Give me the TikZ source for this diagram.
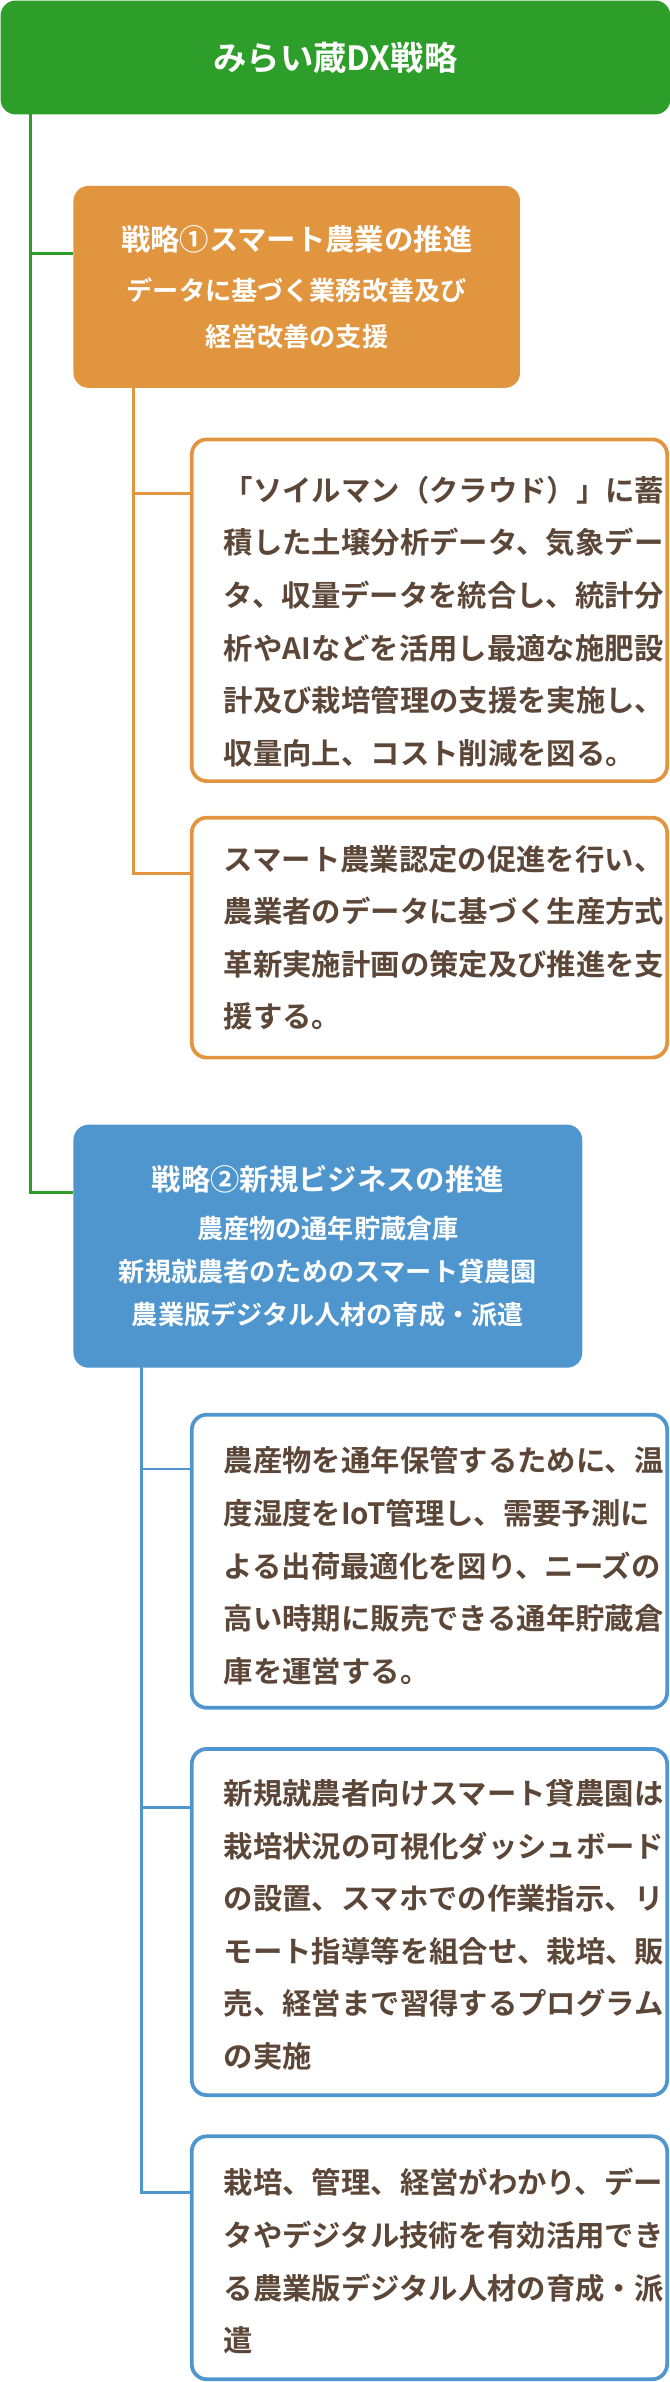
\documentclass[tikz,border=0pt]{standalone}
\usepackage{fontspec}
\setmainfont{Noto Sans CJK JP}[BoldFont={Noto Sans CJK JP Bold}]
\usetikzlibrary{positioning}
\definecolor{dxgreen}{HTML}{2E9E2A}
\definecolor{dxorange}{HTML}{E1953E}
\definecolor{dxblue}{HTML}{4F96CE}
\definecolor{dxbrown}{HTML}{5B4637}
\newcommand{\subfont}{\fontsize{9.8}{17}\selectfont}
\tikzset{
  head/.style={rounded corners=0.2cm, anchor=north west, inner sep=0pt,
    text=white, align=center},
  card/.style={draw, line width=1.4pt, fill=white, rounded corners=0.2cm,
    anchor=north west, inner sep=0pt, minimum width=6.26cm},
  body/.style={anchor=north west, inner sep=0pt, text=dxbrown, align=left,
    font=\fontsize{11}{19.7}\selectfont\bfseries},
  link/.style={line width=1.1pt}
}
\begin{document}
\begin{tikzpicture}[x=0.02cm,y=-0.02cm]
\useasboundingbox (0,0) rectangle (441,1568);

% title bar
\node[head, fill=dxgreen, minimum width=8.82cm, minimum height=1.5cm,
  font=\fontsize{12.5}{15}\selectfont\bfseries] (top) at (0,0) {みらい蔵DX戦略};
\coordinate (g1) at (20,75);

% strategy 1
\node[head, fill=dxorange, minimum width=5.88cm, minimum height=2.66cm,
  font=\fontsize{11}{17}\selectfont\bfseries] (s1) at (48,122)
  {戦略①スマート農業の推進\\[2pt]
   \subfont データに基づく業務改善及び\\\subfont 経営改善の支援};
\coordinate (o1) at (88,255);
\node[card, draw=dxorange, minimum height=4.5cm] (c1) at (125,288) {};
\node[body] at (147,313)
  {「ソイルマン（クラウド）」に蓄\\積した土壌分析データ、気象デー\\タ、収量データを統合し、統計分\\析やAIなどを活用し最適な施肥設\\計及び栽培管理の支援を実施し、\\収量向上、コスト削減を図る。};
\node[card, draw=dxorange, minimum height=3.16cm] (c2) at (125,537) {};
\node[body] at (147,556)
  {スマート農業認定の促進を行い、\\農業者のデータに基づく生産方式\\革新実施計画の策定及び推進を支\\援する。};

% strategy 2
\node[head, fill=dxblue, minimum width=6.7cm, minimum height=3.2cm,
  font=\fontsize{11}{16}\selectfont\bfseries] (s2) at (48,740)
  {戦略②新規ビジネスの推進\\[2pt]
   \subfont 農産物の通年貯蔵倉庫\\\subfont 新規就農者のためのスマート貸農園\\\subfont 農業版デジタル人材の育成・派遣};
\coordinate (b1) at (93,900);
\node[card, draw=dxblue, minimum height=3.86cm] (d1) at (125,930) {};
\node[body] at (147,952)
  {農産物を通年保管するために、温\\度湿度をIoT管理し、需要予測に\\よる出荷最適化を図り、ニーズの\\高い時期に販売できる通年貯蔵倉\\庫を運営する。};
\node[card, draw=dxblue, minimum height=4.56cm] (d2) at (125,1150) {};
\node[body] at (147,1171)
  {新規就農者向けスマート貸農園は\\栽培状況の可視化ダッシュボード\\の設置、スマホでの作業指示、リ\\モート指導等を組合せ、栽培、販\\売、経営まで習得するプログラム\\の実施};
\node[card, draw=dxblue, minimum height=3.2cm] (d3) at (125,1405) {};
\node[body] at (147,1427)
  {栽培、管理、経営がわかり、デー\\タやデジタル技術を有効活用でき\\る農業版デジタル人材の育成・派\\遣};

% connectors
\draw[link, dxgreen] (g1) |- (s1.west |- 0,167);
\draw[link, dxgreen] (g1) |- (s2.west |- 0,785);
\draw[link, dxorange] (o1) |- (c1.west |- 0,325);
\draw[link, dxorange] (o1) |- (c2.west |- 0,575);
\draw[link, dxblue] (b1) |- (d1.west |- 0,967);
\draw[link, dxblue] (b1) |- (d2.west |- 0,1190);
\draw[link, dxblue] (b1) |- (d3.west |- 0,1443);
\end{tikzpicture}
\end{document}
